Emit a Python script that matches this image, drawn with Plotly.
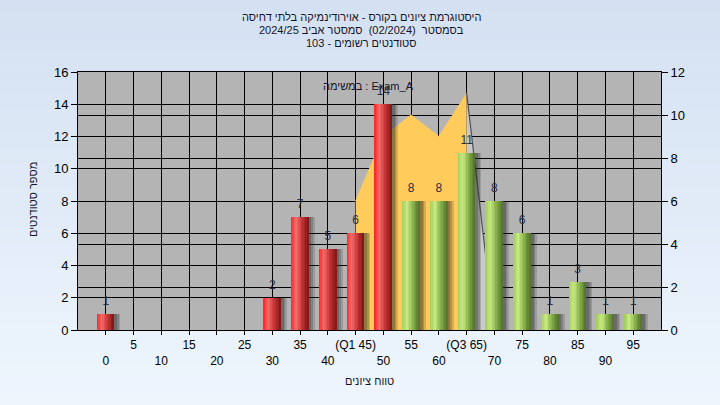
import plotly.graph_objects as go

# ---------------- data ----------------
categories = [0, 5, 10, 15, 20, 25, 30, 35, 40, 45, 50, 55, 60, 65, 70, 75, 80, 85, 90, 95]
counts = [1, 0, 0, 0, 0, 0, 2, 7, 5, 6, 14, 8, 8, 11, 8, 6, 1, 3, 1, 1]
tick_labels = ["0", "5", "10", "15", "20", "25", "30", "35", "40", "(Q1 45)",
               "50", "55", "60", "(Q3 65)", "70", "75", "80", "85", "90", "95"]
pass_mark = 55

# distribution area (right axis)
area_x = [45, 50, 55, 60, 65]
area_y = [6, 9, 10, 9, 11]
face_x = [65, 70]
face_y = [11, 0]

title_lines = [
    "היסטוגרמת ציונים בקורס - אוירודינמיקה בלתי דחיסה",
    "בסמסטר  (02/2024)  סמסטר אביב 2024/25",
    "סטודנטים רשומים - 103",
]
task_label = "במשימה : Exam_A"
x_title = "טווח ציונים"
y_title = "מספר סטודנטים"

FONT = "Liberation Sans, Arial, sans-serif"


def lerp(c1, c2, t):
    return tuple(int(round(a + (b - a) * t)) for a, b in zip(c1, c2))


def gradient(stops, t):
    for (p0, c0), (p1, c1) in zip(stops, stops[1:]):
        if p0 <= t <= p1:
            return lerp(c0, c1, (t - p0) / (p1 - p0))
    return stops[-1][1]


red_stops = [(0.0, (255, 35, 35)), (0.3, (242, 110, 110)), (0.6, (205, 55, 55)), (1.0, (125, 22, 22))]
green_stops = [(0.0, (160, 205, 90)), (0.3, (200, 232, 130)), (0.6, (140, 182, 78)), (1.0, (82, 112, 42))]

fig = go.Figure()

# area (on primary y = right scale)
fig.add_trace(go.Scatter(
    x=area_x, y=area_y, mode="lines", fill="tozeroy",
    fillcolor="#FFCB5A", line=dict(color="#FFCB5A", width=1),
    hoverinfo="skip", showlegend=False, yaxis="y"))
fig.add_trace(go.Scatter(
    x=face_x, y=face_y, mode="lines", fill="tozeroy",
    fillcolor="#C9C9C9", line=dict(color="#505050", width=1.2),
    hoverinfo="skip", showlegend=False, yaxis="y"))

# bars (on y2 = left scale)
bar_w = 3.1
n_strips = 12
strip_w = bar_w / n_strips

# soft shadow
for shift, alpha in [(1.1, 0.18), (0.8, 0.22), (0.5, 0.25)]:
    fig.add_trace(go.Bar(
        x=categories, y=counts, width=bar_w, offset=-bar_w / 2 + shift,
        marker=dict(color="rgba(40,40,40,%.2f)" % alpha, line=dict(width=0)),
        hoverinfo="skip", showlegend=False, yaxis="y2"))

for i in range(n_strips):
    t = (i + 0.5) / n_strips
    cols = []
    for c in categories:
        rgb = gradient(red_stops if c < pass_mark else green_stops, t)
        cols.append("rgb(%d,%d,%d)" % rgb)
    fig.add_trace(go.Bar(
        x=categories, y=counts, width=strip_w * 1.05,
        offset=-bar_w / 2 + i * strip_w,
        marker=dict(color=cols, line=dict(width=0)),
        hoverinfo="skip", showlegend=False, yaxis="y2"))

# value labels
lab_x = [c for c, v in zip(categories, counts) if v > 0]
lab_y = [v for v in counts if v > 0]
fig.add_trace(go.Scatter(
    x=lab_x, y=lab_y, mode="markers+text", text=[str(v) for v in lab_y],
    textposition="top center", marker=dict(size=8, opacity=0),
    textfont=dict(family=FONT, size=12, color="#2e2e3e"),
    hoverinfo="skip", showlegend=False, yaxis="y2", cliponaxis=False))

# tick labels on two rows
ticktext = [lab if i % 2 == 1 else "<br>" + lab for i, lab in enumerate(tick_labels)]

# background gradient (paper) + plot background
shapes = []
n_bands = 30
top_c = (212, 225, 242)
bot_c = (238, 245, 253)
y_top = 1 + 72 / 258
y_bot = -75 / 258
for i in range(n_bands):
    t = i / (n_bands - 1)
    y0 = y_top + (y_bot - y_top) * i / n_bands
    y1 = y_top + (y_bot - y_top) * (i + 1) / n_bands
    shapes.append(dict(type="rect", xref="paper", yref="paper",
                       x0=-0.2, x1=1.2, y0=y1, y1=y0 + 0.001,
                       fillcolor="rgb(%d,%d,%d)" % lerp(top_c, bot_c, t),
                       line=dict(width=0), layer="below"))
shapes.append(dict(type="rect", xref="paper", yref="paper", x0=0, x1=1, y0=0, y1=1,
                   fillcolor="#B4B4B4", line=dict(width=0), layer="below"))


def px_x(x):
    return (x - 78) / 583


def px_y(y):
    return (330 - y) / 258


TXT = dict(family=FONT, size=11, color="#15152a")
annotations = []


def add_text(text, x, y, angle=0):
    annotations.append(dict(text=text, xref="paper", yref="paper",
                            x=px_x(x), y=px_y(y), xanchor="center", yanchor="middle",
                            textangle=angle, showarrow=False, font=TXT))


for k, line in enumerate(title_lines):
    add_text(line, 361, 17 + 13 * k)
add_text(task_label, 368, 86)
add_text(x_title, 369, 381)
add_text(y_title, 33, 200, angle=-90)

fig.update_layout(
    width=720, height=405,
    margin=dict(l=78, r=59, t=72, b=75),
    paper_bgcolor="#E2EBF7", plot_bgcolor="rgba(0,0,0,0)",
    barmode="overlay", bargap=0,
    shapes=shapes, annotations=annotations,
    font=dict(family=FONT, size=12, color="#000000"),
    xaxis=dict(range=[-5, 100], tickmode="array", tickvals=categories, ticktext=ticktext,
               showgrid=True, gridcolor="#000000", gridwidth=1,
               ticks="outside", ticklen=4, tickcolor="#000000",
               showline=True, linecolor="#000000", linewidth=1, mirror=True,
               zeroline=False, tickangle=0, fixedrange=True,
               tickfont=dict(family=FONT, size=12, color="#000000")),
    yaxis=dict(range=[0, 12], dtick=2, side="right",
               showgrid=True, gridcolor="#000000", gridwidth=1,
               ticks="outside", ticklen=6, tickcolor="#000000",
               showline=True, linecolor="#000000", linewidth=1,
               zeroline=False, fixedrange=True,
               tickfont=dict(family=FONT, size=13, color="#000000")),
    yaxis2=dict(range=[0, 16], dtick=2, side="left", overlaying="y",
                showgrid=True, gridcolor="#000000", gridwidth=1,
                ticks="outside", ticklen=6, tickcolor="#000000",
                showline=True, linecolor="#000000", linewidth=1,
                zeroline=False, fixedrange=True,
                tickfont=dict(family=FONT, size=13, color="#000000")),
)

fig.write_html(
    "out.html",
    config={"displayModeBar": False},
    post_script="document.body.style.margin='0';document.body.style.overflow='hidden';",
)
